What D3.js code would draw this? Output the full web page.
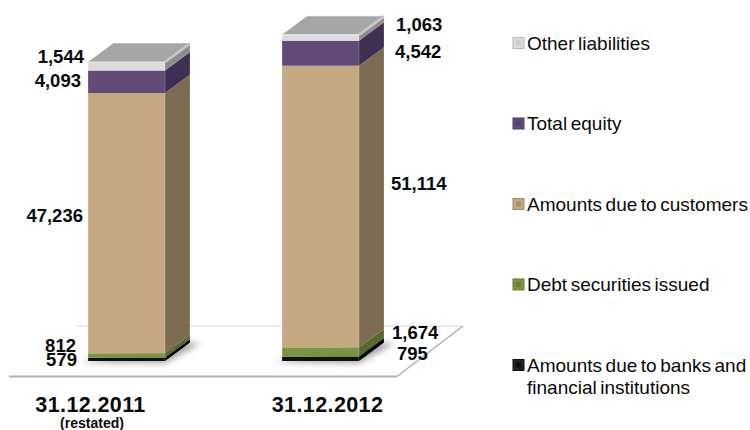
<!DOCTYPE html>
<html><head><meta charset="utf-8">
<script src="https://cdn.jsdelivr.net/npm/d3@7"></script>
<style>html,body{margin:0;padding:0;background:#fff}svg{display:block}
text{font-family:"Liberation Sans",Arial,sans-serif;fill:#0a0a0a}</style></head>
<body><svg id="c" width="750" height="430"></svg>
<script>
const categories = ["31.12.2011", "31.12.2012"];
const seriesNames = ["Amounts due to banks and financial institutions","Debt securities issued","Amounts due to customers","Total equity","Other liabilities"];
const banks = [579, 795];
const debt = [812, 1674];
const customers = [47236, 51114];
const equity = [4093, 4542];
const other = [1544, 1063];
const valueLabels = [["579","795"],["812","1,674"],["47,236","51,114"],["4,093","4,542"],["1,544","1,063"]];
const frontColors = ["#111111","#7a9440","#c4a882","#624a78","#dcdcdc"];
const sideColors = ["#000000","#566a2c","#7e6c52","#3f2f52","#8c8c8c"];
const seriesValues = [banks, debt, customers, equity, other];

const svg = d3.select("#c");
const x = d3.scaleBand().domain(categories).range([29.5,417.5]).paddingInner(0.603).paddingOuter(0.3015);
const y = d3.scaleLinear().domain([0,60000]).range([361,30.4]);
const depthX = 25, depthY = -18.5;
const line = d3.line();

const defs = svg.append("defs");
const blur = defs.append("filter").attr("id","sh").attr("x","-30%").attr("y","-100%").attr("width","160%").attr("height","300%");
blur.append("feGaussianBlur").attr("stdDeviation",3);
const bl1 = defs.append("filter").attr("id","soft").attr("x","-10%").attr("y","-10%").attr("width","120%").attr("height","120%");
bl1.append("feGaussianBlur").attr("stdDeviation",0.5);

// floor
const gf = svg.append("g");
const floorBackY = 326, floorFrontY = 376.5;
gf.append("path").attr("d",line([[76,floorBackY],[463,floorBackY]])).attr("stroke","#e6e6e6").attr("stroke-width",1.5).attr("fill","none");
gf.append("path").attr("d",line([[463,floorBackY],[397,floorFrontY]])).attr("stroke","#a8a8a8").attr("stroke-width",1.2).attr("fill","none");
gf.append("path").attr("d",line([[9,floorFrontY],[397,floorFrontY]])).attr("stroke","#b0b0b0").attr("stroke-width",2).attr("fill","none");

// bars
categories.forEach((cat,i)=>{
  const g = svg.append("g");
  const x0 = x(cat), x1 = x0 + x.bandwidth();
  const b = y(0);
  g.append("path").attr("d",line([[x0-8,b+1],[x1,b+2],[x1+36,b-18],[x1+10,b-18]])+"Z")
    .attr("fill","#666").attr("opacity",0.6).attr("filter","url(#sh)");
  let cum = 0;
  seriesValues.forEach((vals,s)=>{
    const yb = y(cum), yt = y(cum+vals[i]);
    cum += vals[i];
    g.append("rect").attr("x",x0).attr("y",yt).attr("width",x1-x0).attr("height",yb-yt).attr("fill",frontColors[s]);
    g.append("path").attr("d",line([[x1,yb],[x1+depthX,yb+depthY],[x1+depthX,yt+depthY],[x1,yt]])+"Z").attr("fill",sideColors[s]);
  });
  const top = y(cum);
  g.append("path").attr("d",line([[x0,top],[x0+depthX,top+depthY],[x1+depthX,top+depthY],[x1,top]])+"Z").attr("fill","#a6a6a6");
  g.append("path").attr("d",line([[x1,top],[x1+depthX,top+depthY]])).attr("stroke","#c8c8c8").attr("stroke-width",2.5).attr("fill","none").attr("filter","url(#soft)");
  g.append("path").attr("d",line([[x0,top],[x1,top]])).attr("stroke","#e8e8e8").attr("stroke-width",1.2).attr("fill","none");
  g.append("path").attr("d",line([[x0+depthX,top+depthY],[x1+depthX,top+depthY]])).attr("stroke","#bdbdbd").attr("stroke-width",1).attr("fill","none");
  // soft vertical edges of the front and side faces
  g.append("path").attr("d",line([[x0,top],[x0,b]])).attr("stroke","#fff").attr("stroke-opacity",0.25).attr("fill","none");
  g.append("path").attr("d",line([[x1,top],[x1,b]])).attr("stroke","#fff").attr("stroke-opacity",0.2).attr("fill","none");
  g.append("path").attr("d",line([[x1+depthX,top+depthY],[x1+depthX,b+depthY]])).attr("stroke","#fff").attr("stroke-opacity",0.2).attr("fill","none");
});

// value labels: offsets from each segment's midpoint, and from the bar's edge
const labelDx = [[-11,13],[-12,8],[-5,7],[-7,11],[-4,12]];
const labelDy = [[0.6,-4.8],[-10.5,-19],[-7.2,-22.6],[-0.8,-2.2],[-9.3,-12.8]];
categories.forEach((cat,i)=>{
  let cum = 0;
  const left = i===0;
  const edge = left ? x(cat) : x(cat)+x.bandwidth()+depthX;
  seriesValues.forEach((vals,s)=>{
    const mid = y(cum + vals[i]/2);
    cum += vals[i];
    svg.append("text").attr("x",edge+labelDx[s][i]).attr("y",mid+labelDy[s][i])
      .attr("dy","0.35em").attr("text-anchor",left?"end":"start")
      .attr("font-weight","bold").attr("font-size",18.5).text(valueLabels[s][i]);
  });
});

// category axis
const labelScale = d3.scalePoint().domain(categories).range([90,327]);
const ax = svg.append("g").attr("transform","translate(0,404)").call(d3.axisBottom(labelScale).tickSize(0).tickPadding(0));
ax.select(".domain").remove();
ax.selectAll("text").attr("y",0).attr("dy","0.35em").attr("font-size",21.5).attr("font-weight","bold").attr("letter-spacing",0.4);
ax.attr("font-family",null).attr("font-size",null);
svg.append("text").attr("x",labelScale(categories[0])+2).attr("y",428).attr("text-anchor","middle").attr("font-weight","bold").attr("font-size",14).text("(restated)");

// legend
const legendRows = d3.scaleLinear().domain([0,4]).range([43,365]);
const legendOrder = [4,3,2,1,0];
const lg = svg.append("g");
const legendText = (tx,ty,str)=>lg.append("text").attr("x",tx).attr("y",ty).attr("dy","0.35em").attr("font-size",19).attr("word-spacing",-1.7).attr("fill","#1a1a1a").text(str);
legendOrder.forEach((s,k)=>{
  const cy = legendRows(k);
  lg.append("rect").attr("x",513).attr("y",cy-5.5).attr("width",11).attr("height",11).attr("fill",s===0?"#222":frontColors[s]).attr("stroke",d3.color(frontColors[s]).darker(0.5)).attr("stroke-width",1);
  lg.append("rect").attr("x",516).attr("y",cy-2.5).attr("width",5).attr("height",5).attr("fill",d3.color(frontColors[s]).darker(s===4?0.2:0.4));
  if (s===0) {
    legendText(527,cy,"Amounts due to banks and");
    legendText(527,cy+22,"financial institutions");
  } else {
    legendText(527,cy,seriesNames[s]);
  }
});
</script></body></html>
